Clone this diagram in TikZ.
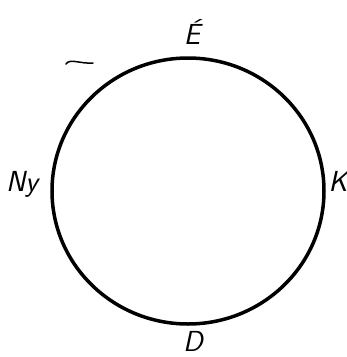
\documentclass[tikz,border=0pt]{standalone}
\usetikzlibrary{shapes.geometric}
\begin{document}
\begin{tikzpicture}[x=1pt,y=-1pt,
  lbl/.style={font=\sffamily\itshape\fontsize{29}{29}\selectfont, inner sep=0pt},
  ring/.style={line width=3.5pt}]
\useasboundingbox (0,0) rectangle (347,357);
\node[ring, draw, ellipse, minimum width=272pt, minimum height=266pt, inner sep=0pt] (c) at (188,191) {};
\node[lbl] (n) at (192,32) {\'E};
\node[lbl] (e) at (338,181) {K};
\node[lbl] (s) at (193,341) {D};
\node[lbl] (w) at (22,184) {Ny};
\coordinate (t1) at (66,64);
\coordinate (t2) at (93,63);
\draw[line width=1.5pt, line cap=round] (t1) .. controls (70,58) and (80,64) .. (t2);
\end{tikzpicture}
\end{document}
